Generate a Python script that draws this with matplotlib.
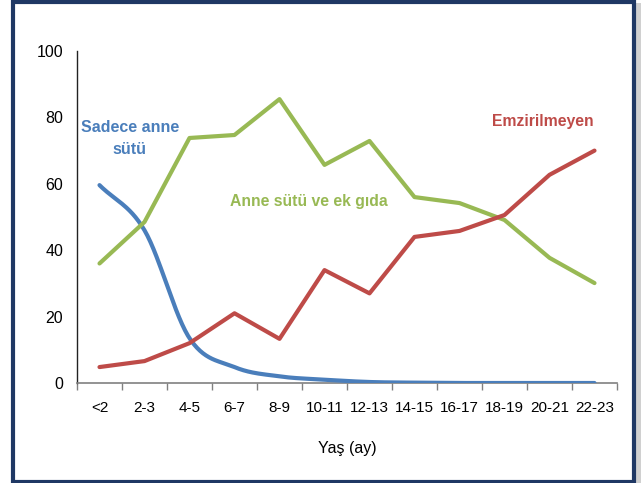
import numpy as np
import matplotlib
matplotlib.use("Agg")
import matplotlib.pyplot as plt
from matplotlib.patches import Rectangle

plt.rcParams['font.family'] = ['Liberation Sans Narrow', 'Liberation Sans', 'DejaVu Sans']

categories = ["<2", "2-3", "4-5", "6-7", "8-9", "10-11", "12-13", "14-15",
              "16-17", "18-19", "20-21", "22-23"]
sadece_anne_sutu = [59.6, 46.0, 13.5, 4.8, 2.0, 1.0, 0.3, 0.1, 0.0, 0.0, 0.0, 0.0]
anne_sutu_ek_gida = [36.0, 48.5, 73.8, 74.7, 85.5, 65.7, 72.9, 56.0, 54.2, 49.1, 37.7, 30.1]
emzirilmeyen = [4.8, 6.6, 12.0, 21.0, 13.3, 34.0, 27.0, 44.0, 45.8, 50.6, 62.7, 70.0]
yticks = [0, 20, 40, 60, 80, 100]

BLUE = "#4A7EBB"
GREEN = "#98B954"
RED = "#BE4B48"


def catmull_rom(xs, ys, n=30):
    xs = np.asarray(xs, float)
    ys = np.asarray(ys, float)
    px = np.concatenate([[2 * xs[0] - xs[1]], xs, [2 * xs[-1] - xs[-2]]])
    py = np.concatenate([[2 * ys[0] - ys[1]], ys, [2 * ys[-1] - ys[-2]]])
    ox, oy = [], []
    t = np.linspace(0, 1, n, endpoint=False)
    for i in range(1, len(px) - 2):
        p0x, p1x, p2x, p3x = px[i - 1:i + 3]
        p0y, p1y, p2y, p3y = py[i - 1:i + 3]
        for (p0, p1, p2, p3, out) in ((p0x, p1x, p2x, p3x, ox), (p0y, p1y, p2y, p3y, oy)):
            out.extend(0.5 * ((2 * p1) + (-p0 + p2) * t +
                              (2 * p0 - 5 * p1 + 4 * p2 - p3) * t ** 2 +
                              (-p0 + 3 * p1 - 3 * p2 + p3) * t ** 3))
    ox.append(xs[-1])
    oy.append(ys[-1])
    return np.array(ox), np.maximum(np.array(oy), 0)


fig = plt.figure(figsize=(6.41, 4.83), dpi=100)
fig.patch.set_facecolor("white")

# frame
fig.patches.append(Rectangle((13 / 641, 1.5 / 483), (634 - 13) / 641, (481.5 - 1.5) / 483,
                             transform=fig.transFigure, fill=False,
                             edgecolor="#1F3864", linewidth=3, zorder=10))
fig.patches.append(Rectangle((636 / 641, 0), 5 / 641, 480 / 483,
                             transform=fig.transFigure, facecolor="#D0D0D0",
                             edgecolor="none", zorder=9))

ax = fig.add_axes([77 / 641, 1 - 383 / 483, 540 / 641, 332 / 483])
x = np.arange(len(categories))

bx, by = catmull_rom(x, sadece_anne_sutu)
ax.plot(bx, by, color=BLUE, lw=3, solid_capstyle="round", zorder=3)
ax.plot(x, anne_sutu_ek_gida, color=GREEN, lw=3, solid_capstyle="round",
        solid_joinstyle="round", zorder=3)
ax.plot(x, emzirilmeyen, color=RED, lw=3, solid_capstyle="round",
        solid_joinstyle="round", zorder=3)

ax.set_xlim(-0.5, len(categories) - 0.5)
ax.set_ylim(0, 100)
ax.set_yticks(yticks)
ax.set_yticklabels([str(v) for v in yticks], fontsize=11.5)
ax.tick_params(axis="y", length=0, pad=10)
ax.set_xticks(x)
ax.set_xticklabels(categories, fontsize=11)
ax.set_xticks(np.arange(-0.5, len(categories), 1), minor=True)
ax.tick_params(axis="x", which="major", length=0, pad=13)
ax.tick_params(axis="x", which="minor", length=5, width=1, color="#808080", direction="out")

for s in ["top", "right"]:
    ax.spines[s].set_visible(False)
ax.spines["left"].set_color("#222222")
ax.spines["left"].set_linewidth(1)
ax.spines["bottom"].set_color("#808080")
ax.spines["bottom"].set_linewidth(1.2)

ax.set_xlabel("Yaş (ay)", fontsize=11.5, labelpad=19)

ax.text(0.67, 73.6, "Sadece anne\nsütü", color=BLUE, fontsize=11.5, fontweight="bold",
        ha="center", va="center", linespacing=1.55)
ax.text(4.65, 54.8, "Anne sütü ve ek gıda", color=GREEN, fontsize=11.3, fontweight="bold",
        ha="center", va="center")
ax.text(9.85, 78.8, "Emzirilmeyen", color=RED, fontsize=11.3, fontweight="bold",
        ha="center", va="center")

fig.savefig("out.png", dpi=100, facecolor="white")
